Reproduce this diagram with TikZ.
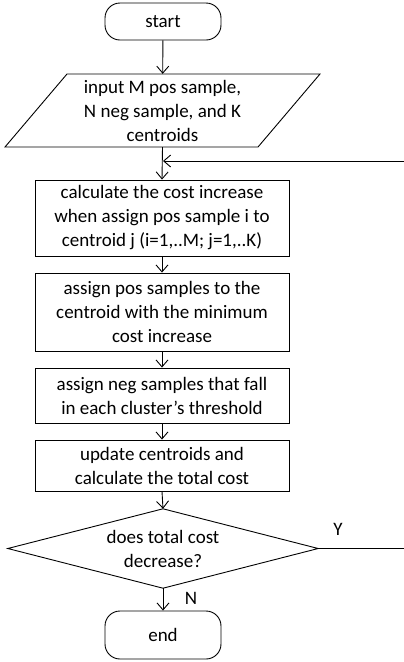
\documentclass[tikz,border=0pt]{standalone}
\usepackage{fontspec}
\setmainfont{Carlito}
\usetikzlibrary{arrows.meta}
\begin{document}
\begin{tikzpicture}[x=1pt,y=-1pt,
  font=\fontsize{19}{24}\selectfont,
  every node/.style={align=center,inner sep=0pt},
  boxstyle/.style={draw,line width=0.9pt,minimum width=254pt},
  termstyle/.style={draw,line width=0.9pt,rounded corners=15pt,minimum width=116pt},
  ghost/.style={draw=none},
  flow/.style={line width=0.9pt,-{Straight Barb[length=7pt,width=12pt,line width=0.9pt]}},
  plain/.style={line width=0.9pt}]
\useasboundingbox (0,0) rectangle (404,662);
\node[termstyle,minimum height=37pt] (start) at (163,21.5) {start};
\node[ghost,minimum width=315pt,minimum height=73pt] (inp) at (162.5,110.5)
  {input M pos sample,\\N neg sample, and K\\centroids};
\draw[plain] (67,74) -- (320,74) -- (258,147) -- (5,147) -- cycle;
\node[boxstyle,minimum height=76pt] (b1) at (162,218)
  {calculate the cost increase\\when assign pos sample i to\\centroid j (i=1,..M; j=1,..K)};
\node[boxstyle,minimum height=78pt] (b2) at (162,312)
  {assign pos samples to the\\centroid with the minimum\\cost increase};
\node[boxstyle,minimum height=55pt] (b3) at (162,395.5)
  {assign neg samples that fall\\in each cluster’s threshold};
\node[boxstyle,minimum height=51pt] (b4) at (162,465.5)
  {update centroids and\\calculate the total cost};
\node[ghost,minimum width=310pt,minimum height=79pt] (dec) at (163,548.5)
  {does total cost\\decrease?};
\draw[plain] (dec.north) -- (dec.east) -- (dec.south) -- (dec.west) -- cycle;
\node[termstyle,minimum height=48pt] (end) at (163,635) {end};
\node (ylab) at (338,529) {Y};
\node (nlab) at (191,598) {N};
\coordinate (junc) at (163,161);
\coordinate (rbot) at (406,548.5);
\coordinate (rtop) at (406,161);
\draw[flow] (start) -- (inp);
\draw[flow] (inp.south) -- (b1.north);
\draw[flow] (b1) -- (b2);
\draw[flow] (b2) -- (b3);
\draw[flow] (b3) -- (b4);
\draw[flow] (b4.south) -- (dec.north);
\draw[flow] (dec.south) -- (end.north);
\draw[flow] (dec.east) -- (rbot) -- (rtop) -- (junc);
\end{tikzpicture}
\end{document}
